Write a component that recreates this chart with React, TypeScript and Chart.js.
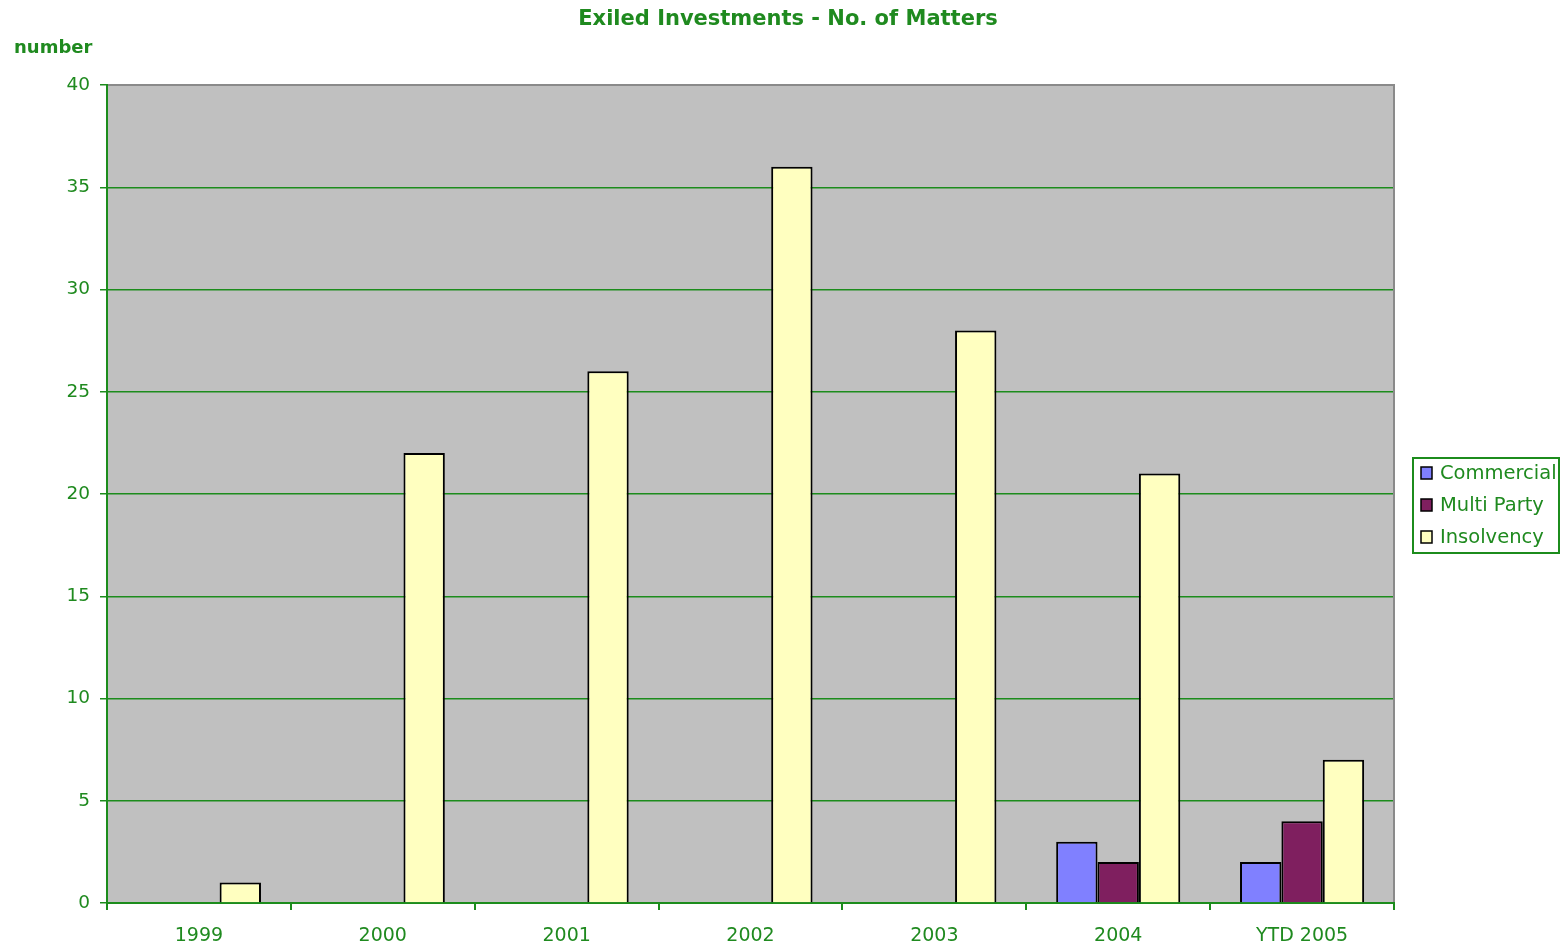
import React, { useEffect, useRef } from "react";
import { Chart, registerables } from "chart.js";

Chart.register(...registerables);

const categories = ["1999", "2000", "2001", "2002", "2003", "2004", "YTD 2005"];
const commercial: (number | null)[] = [null, null, null, null, null, 3, 2];
const multiParty: (number | null)[] = [null, null, null, null, null, 2, 4];
const insolvency: (number | null)[] = [1, 22, 26, 36, 28, 21, 7];
const seriesNames = ["Commercial", "Multi Party", "Insolvency"];
const seriesColors = ["#8080FF", "#7F1F5F", "#FFFFC0"];

const titleText = "Exiled Investments - No. of Matters";
const yAxisLabel = "number";

const GREEN = "#1f8a1f";
const GRID = "#1c8c1c";
const FONT = "'DejaVu Sans', sans-serif";

const decorPlugin = {
  id: "decor",
  beforeDraw(chart: any) {
    const { ctx, chartArea } = chart;
    ctx.save();
    ctx.fillStyle = "#ffffff";
    ctx.fillRect(0, 0, chart.width, chart.height);
    ctx.fillStyle = "#C0C0C0";
    ctx.fillRect(chartArea.left, chartArea.top, chartArea.right - chartArea.left, chartArea.bottom - chartArea.top);
    ctx.restore();
  },
  afterDraw(chart: any) {
    const { ctx, chartArea } = chart;
    ctx.save();
    ctx.strokeStyle = "#8a8a8a";
    ctx.lineWidth = 2;
    ctx.beginPath();
    ctx.moveTo(chartArea.left + 1, chartArea.top);
    ctx.lineTo(chartArea.right, chartArea.top);
    ctx.lineTo(chartArea.right, chartArea.bottom - 1);
    ctx.stroke();

    ctx.fillStyle = GREEN;
    ctx.font = `bold 21px ${FONT}`;
    ctx.textAlign = "center";
    ctx.textBaseline = "middle";
    ctx.fillText(titleText, 788, 20);

    ctx.font = `bold 18px ${FONT}`;
    ctx.textAlign = "left";
    ctx.fillText(yAxisLabel, 14, 48);

    const lx = chartArea.right + 19;
    const ly = 458;
    const lw = 146;
    const lh = 95;
    ctx.fillStyle = "#ffffff";
    ctx.fillRect(lx, ly, lw, lh);
    ctx.strokeStyle = GRID;
    ctx.lineWidth = 2;
    ctx.strokeRect(lx, ly, lw, lh);
    ctx.font = `19.5px ${FONT}`;
    ctx.textBaseline = "middle";
    seriesNames.forEach((name, i) => {
      const cy = ly + 15 + i * 32;
      ctx.fillStyle = seriesColors[i];
      ctx.fillRect(lx + 8, cy - 6, 11, 12);
      ctx.strokeStyle = "#000000";
      ctx.lineWidth = 1.5;
      ctx.strokeRect(lx + 8, cy - 6, 11, 12);
      ctx.fillStyle = GREEN;
      ctx.fillText(name, lx + 27, cy + 1);
    });
    ctx.restore();
  },
};

export default function App() {
  const canvasRef = useRef<HTMLCanvasElement | null>(null);

  useEffect(() => {
    if (!canvasRef.current) return;
    const chart = new Chart(canvasRef.current, {
      type: "bar",
      data: {
        labels: categories,
        datasets: [commercial, multiParty, insolvency].map((d, i) => ({
          label: seriesNames[i],
          data: d,
          backgroundColor: seriesColors[i],
          borderColor: "#000000",
          borderWidth: 2,
          categoryPercentage: 0.675,
          barPercentage: 1,
        })),
      },
      options: {
        animation: false,
        responsive: true,
        maintainAspectRatio: false,
        layout: { padding: { top: 85, right: 167, left: 0, bottom: 0 } },
        plugins: {
          legend: { display: false },
          title: { display: false },
          tooltip: { enabled: false },
        },
        scales: {
          x: {
            afterFit: (scale: any) => {
              scale.height = 46;
            },
            grid: {
              offset: true,
              drawOnChartArea: false,
              drawTicks: true,
              tickLength: 7,
              color: GRID,
              lineWidth: 2,
            },
            border: { color: GRID, width: 2 },
            ticks: {
              color: GREEN,
              font: { family: FONT, size: 19 },
              padding: 15,
              maxRotation: 0,
            },
          },
          y: {
            min: 0,
            max: 40,
            afterFit: (scale: any) => {
              scale.width = 107;
            },
            ticks: {
              stepSize: 5,
              color: GREEN,
              font: { family: FONT, size: 18.5 },
              padding: 10,
            },
            grid: {
              color: GRID,
              lineWidth: 1.5,
              tickLength: 7,
            },
            border: { color: GRID, width: 2 },
          },
        },
      },
      plugins: [decorPlugin],
    });
    return () => chart.destroy();
  }, []);

  return (
    <div style={{ position: "fixed", left: 0, top: 0, width: 1561, height: 949, background: "#fff" }}>
      <canvas ref={canvasRef} />
    </div>
  );
}
